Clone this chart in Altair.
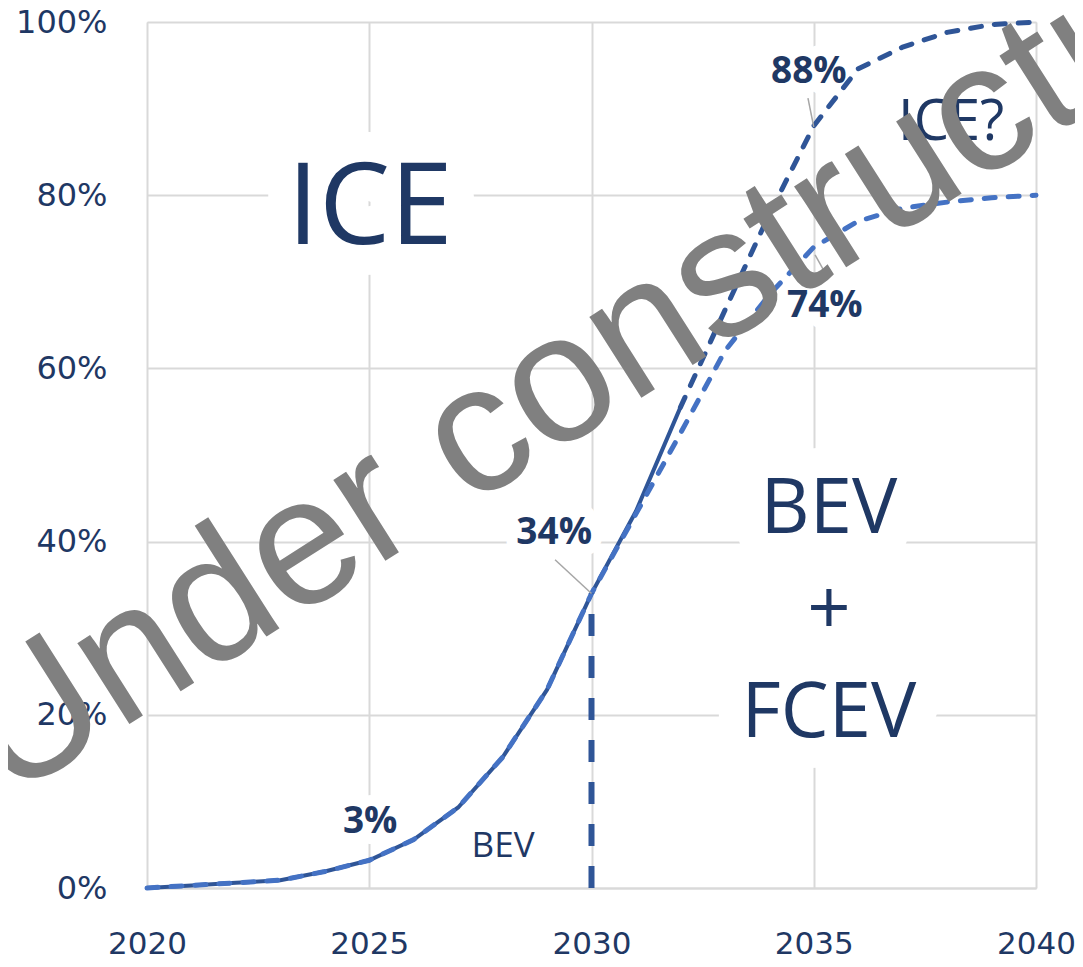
import altair as alt
import pandas as pd

# ---------------- data ----------------
years = list(range(2020, 2041))
# dark line (upper scenario, solid until 2032, dashed after)
share_high = [0.000, 0.003, 0.006, 0.009, 0.019, 0.032, 0.056, 0.093, 0.151, 0.229,
              0.340, 0.435, 0.555, 0.667, 0.778, 0.880, 0.946, 0.971, 0.988, 0.997, 1.000]
# light dashed line (lower scenario)
share_low = [0.000, 0.003, 0.006, 0.009, 0.019, 0.032, 0.056, 0.093, 0.151, 0.229,
             0.340, 0.432, 0.525, 0.620, 0.685, 0.740, 0.770, 0.785, 0.792, 0.797, 0.800]
solid_end_year = 2032

x_ticks = [2020, 2025, 2030, 2035, 2040]
y_ticks = [0, 0.2, 0.4, 0.6, 0.8, 1.0]

# annotation texts and anchor points (year, share)
ice_lbl = {"x": [2025.02], "y": [0.744], "t": ["ICE"]}
ice_q_lbl = {"x": [2038.09], "y": [0.864], "t": ["ICE?"]}
bev_fcev_lbl = {"x": [2035.34], "y": [0.410], "t": ["BEV\n+\nFCEV"]}
bev_small_lbl = {"x": [2028.01], "y": [0.036], "t": ["BEV"]}
value_lbls = {"x": [2025.02, 2029.16, 2034.89, 2035.25],
              "y": [0.0635, 0.397, 0.930, 0.659],
              "t": ["3%", "34%", "88%", "74%"]}
leaders = {"x": [2029.18, 2034.87, 2035.03], "y": [0.379, 0.912, 0.731],
           "x2": [2030.00, 2035.00, 2035.25], "y2": [0.340, 0.879, 0.711]}
watermark = {"x": [2031.36], "y": [0.574], "t": ["Under construction"]}

# ---------------- styles ----------------
DARK = "#2F5597"
LIGHT = "#4472C4"
NAVY = "#1F3864"
GRID = "#D9D9D9"
WATER = "#808080"
LEADER = "#A6A6A6"
FONT = "Open Sans"
AXFONT = "DejaVu Sans"

xs = alt.Scale(domain=[2020, 2040], nice=False, zero=False)
ys = alt.Scale(domain=[0, 1], nice=False)

X = alt.X("x:Q", scale=xs, title=None,
          axis=alt.Axis(values=x_ticks, format="d", grid=True, ticks=False,
                        domain=True, domainColor=GRID, domainWidth=2,
                        gridColor=GRID, gridWidth=2, labelFont=AXFONT,
                        labelFontSize=31, labelColor=NAVY, labelPadding=41,
                        labelFlush=False, labelOverlap=False))
Y = alt.Y("y:Q", scale=ys, title=None,
          axis=alt.Axis(values=y_ticks, format=".0%", grid=True, ticks=False,
                        domain=False, gridColor=GRID, gridWidth=2,
                        labelFont=AXFONT, labelFontSize=32, labelColor=NAVY,
                        labelPadding=40, labelFlush=False, labelOverlap=False))
Xp = alt.X("x:Q", scale=xs)
Yp = alt.Y("y:Q", scale=ys)

hi = pd.DataFrame({"x": years, "y": share_high})
lo = pd.DataFrame({"x": years, "y": share_low})
hi_solid = hi[hi.x <= solid_end_year]
hi_dash = hi[hi.x >= solid_end_year]

base_grid = alt.Chart(hi_solid).mark_line(color=DARK, strokeWidth=4).encode(x=X, y=Y)


def text_layers(d, size, weight="normal", halo=10, **kw):
    df = pd.DataFrame(d)
    halo_l = alt.Chart(df).mark_text(font=FONT, fontSize=size, fontWeight=weight,
                                      fill="white", stroke="white", strokeWidth=halo,
                                      strokeJoin="round", align="center",
                                      baseline="alphabetic", **kw).encode(
        x=Xp, y=Yp, text="t:N")
    txt_l = alt.Chart(df).mark_text(font=FONT, fontSize=size, fontWeight=weight,
                                     color=NAVY, align="center",
                                     baseline="alphabetic", **kw).encode(
        x=Xp, y=Yp, text="t:N")
    return halo_l, txt_l


h1, t1 = text_layers(ice_lbl, 113, halo=60)
h2, t2 = text_layers(ice_q_lbl, 56, halo=6)
h3, t3 = text_layers(bev_fcev_lbl, 76, halo=60, lineBreak="\n", lineHeight=102)
h4, t4 = text_layers(bev_small_lbl, 35, halo=6)
h5, t5 = text_layers(value_lbls, 37, weight="bold", halo=22)

dark_dash = alt.Chart(hi_dash).mark_line(color=DARK, strokeWidth=5,
                                         strokeDash=[11, 13], strokeCap="round").encode(x=Xp, y=Yp)
light_dash = alt.Chart(lo).mark_line(color=LIGHT, strokeWidth=5,
                                     strokeDash=[11, 13], strokeCap="round").encode(x=Xp, y=Yp)

vline_df = pd.DataFrame({"x": [years[10]], "y": [0.0], "y2": [share_high[10]]})
vline = alt.Chart(vline_df).mark_rule(color=DARK, strokeWidth=6,
                                      strokeDash=[22, 20]).encode(x=Xp, y=Yp, y2="y2:Q")

lead = alt.Chart(pd.DataFrame(leaders)).mark_rule(color=LEADER, strokeWidth=1.5).encode(
    x=Xp, y=Yp, x2="x2:Q", y2="y2:Q")

wm = alt.Chart(pd.DataFrame(watermark)).mark_text(
    font="Liberation Sans", fontSize=182, color=WATER, angle=327.5, align="center",
    baseline="alphabetic").encode(x=Xp, y=Yp, text="t:N")

chart = alt.layer(
    base_grid, h1, h2, h3, h4, h5,
    dark_dash, light_dash, vline, lead,
    t1, t2, t3, t4, t5, wm
).properties(
    width=889, height=866,
    autosize=alt.AutoSizeParams(type="none"),
    padding={"left": 139, "top": 14, "right": 39, "bottom": 71},
).configure_view(stroke=None).configure(background="white")

chart.save("out.html", embed_options={"renderer": "svg", "actions": False})
